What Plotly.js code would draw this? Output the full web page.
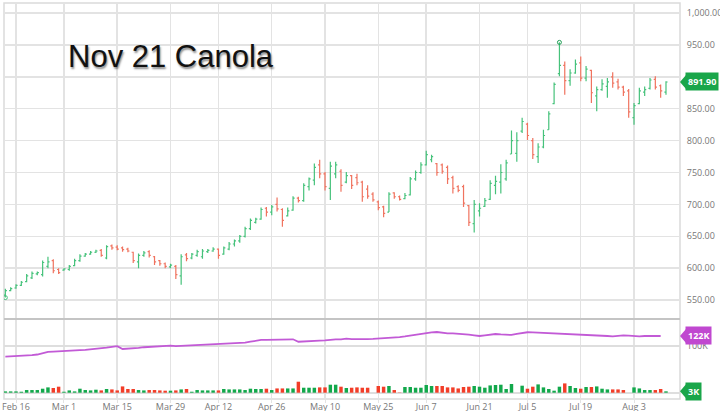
<!DOCTYPE html>
<html><head><meta charset="utf-8">
<script src="https://cdn.plot.ly/plotly-3.0.1.min.js"></script>
<style>html,body{margin:0;padding:0;background:#fff}#chart{width:720px;height:411px}</style>
</head><body><div id="chart"></div>
<script>
const startDate = '2021-02-11', endDate = '2021-08-11';
const holidays = ['2021-02-15','2021-04-02','2021-05-24','2021-07-01','2021-08-02'];
const tickDates = ['2021-02-16','2021-03-01','2021-03-15','2021-03-29','2021-04-12','2021-04-26','2021-05-10','2021-05-25','2021-06-07','2021-06-21','2021-07-05','2021-07-19','2021-08-03'];
const tickLabels = ['Feb 16','Mar 1','Mar 15','Mar 29','Apr 12','Apr 26','May 10','May 25','Jun 7','Jun 21','Jul 5','Jul 19','Aug 3'];

const openP = [558,565,569,573,579,585,591,590,603,612,
598,597,598,604,612,619,622,625,628,616,
635,633,632,630,625,610,620,626,618,612,
607,602,603,588,621,616,620,618,626,627,
630,622,630,638,643,650,662,672,677,694,
688,700,692,682,691,710,706,728,738,762,
748,725,748,752,735,745,742,735,724,716,
704,696,688,718,712,709,715,740,750,762,
770,764,762,758,742,728,728,698,670,690,
697,708,730,735,740,779,780,815,826,800,
775,790,817,858,905,918,894,906,922,898,
910,870,880,885,900,892,884,878,836,858,
876,882,896,886,876];
const highP = [568,570,575,580,591,595,595,612,618,614,
600,600,605,615,622,624,627,629,630,636,
637,636,634,632,626,623,627,628,619,613,
609,607,605,622,624,624,629,630,630,633,
631,634,641,645,652,665,678,679,695,696,
699,711,694,695,713,712,733,742,764,770,
751,767,767,755,751,746,748,737,730,719,
706,698,719,719,714,718,743,753,766,784,
778,765,764,761,745,730,731,699,707,702,
710,738,745,763,770,816,813,836,828,804,
796,817,846,891,954,924,912,927,932,917,
911,885,896,898,907,897,886,881,859,883,
885,898,901,888,893];
const lowP = [554,564,568,572,578,583,589,587,600,592,
591,596,596,603,610,618,621,624,618,614,
629,628,626,625,608,600,618,617,605,604,
600,600,583,574,611,614,618,615,624,626,
615,621,628,634,640,648,660,670,676,681,
683,689,665,681,690,703,704,722,730,741,
722,707,741,720,733,724,730,704,709,704,
691,680,688,709,706,708,714,737,748,761,
766,745,748,732,717,719,696,666,656,681,
696,707,716,717,737,779,767,812,801,771,
765,788,817,857,901,872,886,905,893,893,
859,846,878,867,883,880,870,836,825,857,
870,880,880,867,872];
const closeP = [565,568,573,578,588,592,593,609,610,596,
593,599,603,612,619,622,625,627,620,634,
632,630,629,627,612,620,624,620,610,607,
603,605,590,618,615,622,626,627,628,630,
620,632,638,643,650,662,675,677,692,688,
696,693,675,690,710,706,730,740,758,748,
728,760,762,730,745,730,734,712,713,707,
695,686,716,712,708,714,740,750,762,778,
775,750,752,740,725,722,702,672,700,694,
706,733,736,750,765,800,800,830,808,778,
790,808,842,888,918,894,906,920,898,912,
875,880,889,892,890,884,876,845,855,878,
880,895,884,878,891.9];
const volume = [2800,2800,2800,2100,5700,5700,5700,8500,11300,10000,
12800,2100,4900,2800,8500,5700,4900,6400,4900,7900,
7000,4900,13400,7900,7900,5700,4900,5700,5700,4900,
4300,4300,4900,7000,7900,2100,5700,4900,4900,4900,
4900,7900,7000,7000,7000,5700,8500,7900,7900,8500,
5700,9100,9100,9100,9100,23400,10600,10600,10600,11300,
11300,17000,17000,12800,10000,10600,11300,10600,10600,0,
14300,12800,14300,5700,600,12100,12100,10600,10600,16400,
14300,14300,14300,11300,11300,9100,12100,12800,14300,12800,
10600,15500,16400,17000,7900,18500,0,14900,8500,12800,
17700,11300,7900,4300,12800,19800,14300,10000,8500,12100,
12100,13400,8500,7000,7000,7000,5700,0,11300,9100,
5700,5700,5700,7900,2900];
const openInterest = [75000,75500,76000,76500,77500,78500,80000,83000,86000,86500,
87500,88500,89000,89500,90000,90500,91500,92500,94000,95500,
97500,99000,92500,93000,94000,95000,96500,97500,98000,98500,
99500,100000,99000,99500,100000,100500,101000,101500,102000,102500,
103000,104000,105500,106000,106500,107000,109000,111000,113000,113000,
113500,113500,114000,114000,114500,109000,110000,110500,111000,111500,
112000,114000,114500,114500,116000,115000,114500,114500,115000,115500,
116000,117000,117500,118000,119500,121000,123000,125000,127500,129500,
130000,131000,129000,128000,128000,127500,126500,125000,123500,122000,
123500,125000,126500,125500,124500,124300,127000,129000,130500,130000,
129500,129000,128000,127500,126500,126500,126500,126000,125800,125500,
125000,124000,123000,122000,121300,122500,123600,123000,122000,121300,
122000,122700,122300,122000];

// trading-day categories
const dates = [];
for (let d = new Date(startDate + 'T00:00:00Z'); d <= new Date(endDate + 'T00:00:00Z'); d.setUTCDate(d.getUTCDate() + 1)) {
  const wd = d.getUTCDay(); const s = d.toISOString().slice(0, 10);
  if (wd !== 0 && wd !== 6 && !holidays.includes(s)) dates.push(s);
}

const UP = '#46c27b', DOWN = '#f0735f', VUP = '#12a84b', VDOWN = '#f23d28', OIC = '#c25ad6';
const TAGG = '#1aa64a', TAGP = '#c048d0';
const font = 'Open Sans, Lato, sans-serif';

const volColors = closeP.map((c, i) => c >= openP[i] ? VUP : VDOWN);
const iLow = lowP.indexOf(Math.min(...lowP));
const iHigh = highP.indexOf(Math.max(...highP));

const traces = [
  {type: 'ohlc', x: dates, open: openP, high: highP, low: lowP, close: closeP, xaxis: 'x', yaxis: 'y',
   increasing: {line: {color: UP, width: 1.2}}, decreasing: {line: {color: DOWN, width: 1.2}},
   tickwidth: 0.3, hoverinfo: 'skip'},
  {type: 'scatter', mode: 'markers', x: [dates[iLow], dates[iHigh]], y: [lowP[iLow], highP[iHigh]],
   marker: {symbol: 'circle-open', size: 4, color: [UP, '#1f9e55'], line: {width: 1}}, xaxis: 'x', yaxis: 'y', hoverinfo: 'skip'},
  {type: 'scatter', mode: 'lines', x: dates.slice(0, openInterest.length), y: openInterest,
   line: {color: OIC, width: 1.8}, xaxis: 'x', yaxis: 'y2', hoverinfo: 'skip'},
  {type: 'bar', x: dates, y: volume, marker: {color: volColors, line: {width: 0}}, xaxis: 'x', yaxis: 'y3', hoverinfo: 'skip'}
];

const lastClose = closeP[closeP.length - 1];
const lastOI = openInterest[openInterest.length - 1];
const lastVol = volume[volume.length - 1];

function tag(text, yref, yval, color) {
  return {xref: 'paper', x: 1, xanchor: 'left', xshift: 5, yref: yref, y: yval, yanchor: 'middle',
    text: '<b>' + text + '</b>', showarrow: false, bgcolor: color, borderpad: 2,
    font: {family: font, size: 9, color: '#fff'}};
}
function tri(yref, yval, color) {
  return {type: 'path', xref: 'paper', yref: yref, xsizemode: 'pixel', ysizemode: 'pixel',
    xanchor: 1, yanchor: yval, path: 'M0,0 L6,-7 L6,7 Z', fillcolor: color, line: {width: 0}, layer: 'above'};
}

const gridC = '#e3e3e3';
const layout = {
  width: 720, height: 411, margin: {l: 4, r: 40, t: 3, b: 12},
  paper_bgcolor: '#fff', plot_bgcolor: '#fff', showlegend: false, bargap: 0.35,
  title: {text: 'Nov 21 Canola', xref: 'container', yref: 'container', x: 68 / 720, xanchor: 'left',
    y: 1 - 56 / 411, yanchor: 'middle',
    font: {family: 'Liberation Sans, Arial, sans-serif', size: 31, color: '#111', shadow: '1px 2px 2px rgba(0,0,0,0.45)'}},
  xaxis: {type: 'category', range: [-0.252, 126.63], anchor: 'y2', tickvals: tickDates, ticktext: tickLabels,
    showgrid: true, gridcolor: gridC, gridwidth: 1.5, ticks: 'outside', ticklen: 3, tickcolor: gridC,
    ticklabelstandoff: -4,
    tickfont: {family: font, size: 9, color: '#777'}, zeroline: false, showline: false,
    rangeslider: {visible: false}, fixedrange: true},
  yaxis: {domain: [0.202, 1], anchor: 'x', range: [520.4, 1015.7], side: 'right', dtick: 50, tick0: 0,
    tickformat: ',.2f', showgrid: true, gridcolor: gridC, gridwidth: 1.5, ticks: 'outside', ticklen: 4,
    tickcolor: 'rgba(0,0,0,0)', tickfont: {family: font, size: 9, color: '#777'}, zeroline: false, fixedrange: true},
  yaxis2: {domain: [0, 0.202], anchor: 'x', range: [-20900, 160500], side: 'right', tickvals: [100000], ticktext: ['100K'],
    showgrid: true, gridcolor: '#dedede', gridwidth: 2, ticks: 'outside', ticklen: 4, tickcolor: 'rgba(0,0,0,0)',
    tickfont: {family: font, size: 9, color: '#777'}, zeroline: false, fixedrange: true},
  yaxis3: {overlaying: 'y2', anchor: 'x', range: [-13400, 156800], side: 'right', showticklabels: false, showgrid: false,
    zeroline: true, zerolinecolor: '#dedede', zerolinewidth: 2, fixedrange: true},
  annotations: [
    tag(lastClose.toFixed(2), 'y', lastClose, TAGG),
    tag(Math.round(lastOI / 1000) + 'K', 'y2', lastOI, TAGP),
    tag(Math.round(lastVol / 1000) + 'K', 'y3', lastVol, TAGG)
  ],
  shapes: [
    {type: 'rect', xref: 'paper', yref: 'paper', x0: 0, x1: 1, y0: 0, y1: 1, line: {color: '#dadada', width: 1.5}, layer: 'below'},
    {type: 'line', xref: 'paper', yref: 'paper', x0: 0, x1: 1, y0: 0.202, y1: 0.202, line: {color: '#c4c4c4', width: 2}},
    tri('y', lastClose, TAGG), tri('y2', lastOI, TAGP), tri('y3', lastVol, TAGG)
  ]
};

Plotly.newPlot('chart', traces, layout, {staticPlot: true, displayModeBar: false});
</script>
</body></html>
